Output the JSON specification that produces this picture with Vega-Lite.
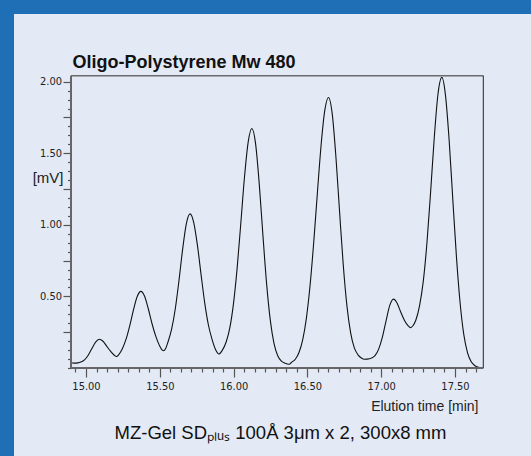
{
  "$schema": "https://vega.github.io/schema/vega-lite/v6.json",
  "width": 517,
  "height": 442,
  "autosize": {"type": "none"},
  "padding": {"left": 14, "top": 14, "right": 0, "bottom": 0},
  "background": "#1e6fb5",
  "config": {
    "view": {"stroke": null, "fill": "#e3eaf6"},
    "axis": {"domain": false, "grid": false, "labelFont": "DejaVu Sans Condensed, Liberation Sans Narrow, sans-serif", "labelFontSize": 11, "labelColor": "#222", "tickColor": "#555", "tickWidth": 1.2, "titleFont": "Liberation Sans, Arial, sans-serif", "titleFontWeight": "normal", "titleColor": "#222"}
  },
  "datasets": {
    "trace": [
      {"t": 14.898, "v": 0.037}, {"t": 14.92, "v": 0.034}, {"t": 14.945, "v": 0.036}, {"t": 14.965, "v": 0.042},
      {"t": 14.99, "v": 0.057}, {"t": 15.015, "v": 0.089}, {"t": 15.04, "v": 0.136}, {"t": 15.065, "v": 0.181},
      {"t": 15.09, "v": 0.201}, {"t": 15.115, "v": 0.187}, {"t": 15.14, "v": 0.153}, {"t": 15.165, "v": 0.119},
      {"t": 15.19, "v": 0.091}, {"t": 15.207, "v": 0.08}, {"t": 15.222, "v": 0.094}, {"t": 15.247, "v": 0.137},
      {"t": 15.272, "v": 0.203}, {"t": 15.297, "v": 0.298}, {"t": 15.322, "v": 0.408}, {"t": 15.347, "v": 0.499},
      {"t": 15.372, "v": 0.535}, {"t": 15.397, "v": 0.501}, {"t": 15.422, "v": 0.414}, {"t": 15.447, "v": 0.311},
      {"t": 15.472, "v": 0.224}, {"t": 15.497, "v": 0.158}, {"t": 15.512, "v": 0.13}, {"t": 15.524, "v": 0.121},
      {"t": 15.54, "v": 0.137}, {"t": 15.555, "v": 0.18}, {"t": 15.58, "v": 0.271}, {"t": 15.605, "v": 0.414},
      {"t": 15.63, "v": 0.612}, {"t": 15.655, "v": 0.832}, {"t": 15.68, "v": 1.009}, {"t": 15.705, "v": 1.077},
      {"t": 15.73, "v": 1.016}, {"t": 15.755, "v": 0.857}, {"t": 15.78, "v": 0.649}, {"t": 15.805, "v": 0.45},
      {"t": 15.83, "v": 0.297}, {"t": 15.855, "v": 0.197}, {"t": 15.88, "v": 0.124}, {"t": 15.9, "v": 0.098},
      {"t": 15.924, "v": 0.125}, {"t": 15.949, "v": 0.18}, {"t": 15.974, "v": 0.278}, {"t": 15.999, "v": 0.448},
      {"t": 16.024, "v": 0.698}, {"t": 16.049, "v": 1.013}, {"t": 16.074, "v": 1.336}, {"t": 16.099, "v": 1.58},
      {"t": 16.124, "v": 1.673}, {"t": 16.149, "v": 1.566}, {"t": 16.174, "v": 1.283}, {"t": 16.199, "v": 0.922},
      {"t": 16.224, "v": 0.584}, {"t": 16.249, "v": 0.331}, {"t": 16.274, "v": 0.171}, {"t": 16.299, "v": 0.086},
      {"t": 16.324, "v": 0.048}, {"t": 16.349, "v": 0.033}, {"t": 16.377, "v": 0.026}, {"t": 16.393, "v": 0.04},
      {"t": 16.418, "v": 0.061}, {"t": 16.443, "v": 0.108}, {"t": 16.468, "v": 0.196}, {"t": 16.493, "v": 0.347},
      {"t": 16.518, "v": 0.576}, {"t": 16.543, "v": 0.88}, {"t": 16.568, "v": 1.228}, {"t": 16.593, "v": 1.56},
      {"t": 16.618, "v": 1.801}, {"t": 16.643, "v": 1.89}, {"t": 16.668, "v": 1.777}, {"t": 16.693, "v": 1.478},
      {"t": 16.718, "v": 1.091}, {"t": 16.743, "v": 0.719}, {"t": 16.768, "v": 0.432}, {"t": 16.793, "v": 0.246},
      {"t": 16.818, "v": 0.141}, {"t": 16.843, "v": 0.092}, {"t": 16.868, "v": 0.068}, {"t": 16.885, "v": 0.061},
      {"t": 16.905, "v": 0.062}, {"t": 16.933, "v": 0.069}, {"t": 16.958, "v": 0.087}, {"t": 16.983, "v": 0.132},
      {"t": 17.008, "v": 0.215}, {"t": 17.033, "v": 0.33}, {"t": 17.058, "v": 0.437}, {"t": 17.083, "v": 0.481},
      {"t": 17.108, "v": 0.453}, {"t": 17.133, "v": 0.389}, {"t": 17.158, "v": 0.332}, {"t": 17.183, "v": 0.294},
      {"t": 17.199, "v": 0.282}, {"t": 17.215, "v": 0.295}, {"t": 17.235, "v": 0.335}, {"t": 17.26, "v": 0.436},
      {"t": 17.285, "v": 0.605}, {"t": 17.31, "v": 0.875}, {"t": 17.335, "v": 1.233}, {"t": 17.36, "v": 1.616},
      {"t": 17.385, "v": 1.916}, {"t": 17.411, "v": 2.03}, {"t": 17.435, "v": 1.91}, {"t": 17.46, "v": 1.596},
      {"t": 17.485, "v": 1.179}, {"t": 17.51, "v": 0.773}, {"t": 17.535, "v": 0.451}, {"t": 17.56, "v": 0.231},
      {"t": 17.585, "v": 0.106}, {"t": 17.61, "v": 0.043}, {"t": 17.635, "v": 0.016}, {"t": 17.66, "v": 0.005},
      {"t": 17.692, "v": 0.0}
    ]
  },
  "resolve": {"axis": {"x": "independent", "y": "independent"}},
  "layer": [
    {
      "data": {"values": [{}]},
      "mark": {"type": "rule", "color": "#6a6a6a", "strokeWidth": 1.5},
      "encoding": {
        "x": {"datum": 14.8984, "type": "quantitative", "scale": {"domain": [14.5122, 18.0149], "nice": false, "zero": false}, "axis": null},
        "x2": {"datum": 17.6917},
        "y": {"datum": 2.0419, "type": "quantitative", "scale": {"domain": [-0.6147, 2.4729], "nice": false, "zero": false}, "axis": null}
      }
    },
    {
      "data": {"values": [{}]},
      "mark": {"type": "rule", "color": "#222", "strokeWidth": 1},
      "encoding": {
        "x": {"datum": 17.6917, "type": "quantitative", "scale": {"domain": [14.5122, 18.0149], "nice": false, "zero": false}, "axis": null},
        "y": {"datum": 0, "type": "quantitative", "scale": {"domain": [-0.6147, 2.4729], "nice": false, "zero": false}, "axis": null},
        "y2": {"datum": 2.0419}
      }
    },
    {
      "data": {"name": "trace"},
      "mark": {"type": "line", "color": "#111", "strokeWidth": 1.1, "interpolate": "monotone"},
      "encoding": {
        "x": {"field": "t", "type": "quantitative", "scale": {"domain": [14.5122, 18.0149], "nice": false, "zero": false},
          "axis": {"orient": "bottom", "offset": -88, "values": [15, 15.5, 16, 16.5, 17, 17.5], "format": ".2f", "tickSize": 9, "labelPadding": 3,
            "title": "Elution time [min]", "titleFontSize": 14, "titleX": 464, "titleY": 42, "titleAlign": "right", "titleAnchor": null, "titleBaseline": "alphabetic"}},
        "y": {"field": "v", "type": "quantitative", "scale": {"domain": [-0.6147, 2.4729], "nice": false, "zero": false},
          "axis": {"orient": "left", "offset": -57, "values": [0.25, 0.5, 0.75, 1, 1.25, 1.5, 1.75, 2], "labelExpr": "datum.value % 0.5 == 0 ? format(datum.value, '.2f') : ''", "tickSize": 8, "labelPadding": 1.5,
            "title": "[mV]", "titleFontSize": 15, "titleAngle": 0, "titleAlign": "right", "titleBaseline": "middle", "titleX": -8, "titleY": 163}}
      }
    },
    {
      "data": {"name": "trace"},
      "mark": {"type": "line", "strokeOpacity": 0},
      "encoding": {
        "x": {"field": "t", "type": "quantitative", "scale": {"domain": [14.5122, 18.0149], "nice": false, "zero": false},
          "axis": {"orient": "bottom", "offset": -88, "values": [14.9286, 15.0714, 15.1429, 15.2143, 15.2857, 15.3571, 15.4286, 15.5714, 15.6429, 15.7143, 15.7857, 15.8571, 15.9286, 16.0714, 16.1429, 16.2143, 16.2857, 16.3571, 16.4286, 16.5714, 16.6429, 16.7143, 16.7857, 16.8571, 16.9286, 17.0714, 17.1429, 17.2143, 17.2857, 17.3571, 17.4286, 17.5714, 17.6429], "labels": false, "tickSize": 4,
            "title": "MZ-Gel SDₚₗᵤₛ 100Å 3μm x 2, 300x8 mm", "titleFontSize": 18.5, "titleX": 266, "titleY": 70, "titleAlign": "center", "titleAnchor": null, "titleBaseline": "alphabetic", "titleColor": "#111"}},
        "y": {"field": "v", "type": "quantitative", "scale": {"domain": [-0.6147, 2.4729], "nice": false, "zero": false},
          "axis": {"orient": "left", "offset": -57, "values": [0, 0.0625, 0.125, 0.1875, 0.3125, 0.375, 0.4375, 0.5625, 0.625, 0.6875, 0.8125, 0.875, 0.9375, 1.0625, 1.125, 1.1875, 1.3125, 1.375, 1.4375, 1.5625, 1.625, 1.6875, 1.8125, 1.875, 1.9375], "labels": false, "tickSize": 3.5, "title": null}}
      }
    },
    {
      "data": {"name": "trace"},
      "mark": {"type": "line", "strokeOpacity": 0},
      "encoding": {
        "x": {"field": "t", "type": "quantitative", "scale": {"domain": [14.5122, 18.0149], "nice": false, "zero": false},
          "axis": {"orient": "top", "offset": -61.7, "ticks": false, "labels": false,
            "title": "Oligo-Polystyrene Mw 480", "titleFontSize": 18, "titleFontWeight": "bold", "titleColor": "#111", "titleX": 58, "titleY": -8, "titleAlign": "left", "titleAnchor": null, "titleBaseline": "alphabetic"}},
        "y": {"field": "v", "type": "quantitative", "scale": {"domain": [-0.6147, 2.4729], "nice": false, "zero": false}, "axis": null}
      }
    },
    {
      "data": {"values": [{}]},
      "mark": {"type": "rule", "color": "#666", "strokeWidth": 2},
      "encoding": {
        "x": {"datum": 14.8984, "type": "quantitative", "scale": {"domain": [14.5122, 18.0149], "nice": false, "zero": false}, "axis": null},
        "y": {"datum": 0, "type": "quantitative", "scale": {"domain": [-0.6147, 2.4729], "nice": false, "zero": false}, "axis": null},
        "y2": {"datum": 2.0419}
      }
    },
    {
      "data": {"values": [{}]},
      "mark": {"type": "rule", "color": "#666", "strokeWidth": 2},
      "encoding": {
        "x": {"datum": 14.8984, "type": "quantitative", "scale": {"domain": [14.5122, 18.0149], "nice": false, "zero": false}, "axis": null},
        "x2": {"datum": 17.6917},
        "y": {"datum": 0, "type": "quantitative", "scale": {"domain": [-0.6147, 2.4729], "nice": false, "zero": false}, "axis": null}
      }
    }
  ]
}
